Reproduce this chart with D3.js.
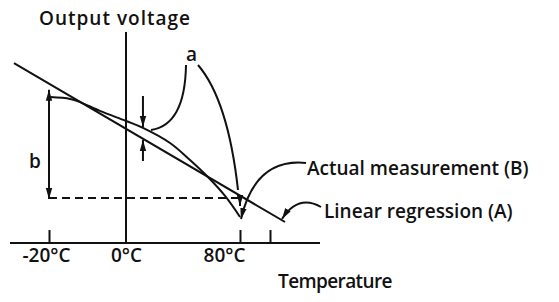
<!DOCTYPE html>
<html lang="en">
<head>
  <meta charset="UTF-8">
  <script src="https://d3js.org/d3.v7.min.js"></script>
  <title>Output voltage vs temperature</title>
  <style>
    body { margin: 0; background: #fff; }
    svg text {
      font-family: "Open Sans", "DejaVu Sans", sans-serif;
      font-size: 19px;
      font-weight: 600;
      fill: #111;
    }
    .ink { stroke: #111; fill: none; stroke-width: 2; }
  </style>
</head>
<body>
  <svg width="559" height="302"></svg>

  <script>
    // x axis ticks (schematic, not to scale)
    const tempTicks = [-20, 0, 80, 100];
    const tickLabels = ["-20°C", "0°C", "80°C", ""];

    const measuredTemp = [-19.7, -14.5, -11.9, -6.8, 0, 11.9, 30.9, 44.9, 57.5, 69.5, 80];
    const measuredVolt = [6.95, 6.86, 6.71, 6.29, 5.81, 5.48, 4.76, 3.95, 3.14, 2.24, 1.24];

    // linear regression (A), two end points
    const regressionTemp = [-29.1, 110];
    const regressionVolt = [8.57, 1.0];

    // levels used by the "b" span
    const bTopVolt = 7.3;
    const bBottomVolt = 2.14;
    const dashEndTemp = 83.3;

    const svg = d3.select("svg");

    const x = d3.scaleLinear()
      .domain(tempTicks)
      .range([49, 126, 240, 270]);

    const y = d3.scaleLinear()
      .domain([0, 10])
      .range([243, 33]);

    // arrowhead
    const defs = svg.append("defs");
    defs.append("marker")
      .attr("id", "arrow")
      .attr("viewBox", "0 -4 11 8")
      .attr("refX", 11)
      .attr("refY", 0)
      .attr("markerWidth", 11)
      .attr("markerHeight", 8)
      .attr("markerUnits", "userSpaceOnUse")
      .attr("orient", "auto")
      .append("path")
      .attr("d", "M0,-3.2L11,0L0,3.2Z")
      .attr("fill", "#111");

    // axes
    svg.append("line").attr("class", "ink")
      .attr("x1", 10).attr("x2", 320)
      .attr("y1", y(0)).attr("y2", y(0))
      .attr("stroke-width", 2.5);

    svg.append("line").attr("class", "ink")
      .attr("x1", x(0)).attr("x2", x(0))
      .attr("y1", 32).attr("y2", y(0));

    const xAxis = d3.axisBottom(x)
      .tickValues(tempTicks)
      .tickFormat((d, i) => tickLabels[i])
      .tickSizeInner(-13)
      .tickSizeOuter(0)
      .tickPadding(5.5);

    const gx = svg.append("g")
      .attr("transform", `translate(0,${y(0)})`)
      .call(xAxis);
    gx.select(".domain").remove();
    gx.selectAll(".tick line").attr("stroke", "#111").attr("stroke-width", 2)
      .filter(d => d === 0).remove();
    gx.selectAll(".tick text")
      .attr("font-size", null).attr("font-family", null).attr("fill", null)
      .filter(d => d === 80)
      .attr("text-anchor", "end")
      .attr("dx", 5);
    gx.selectAll(".tick text").filter(d => d === -20).attr("dx", -3);

    // dashed level line
    svg.append("line").attr("class", "ink")
      .attr("x1", x(-20)).attr("x2", x(dashEndTemp))
      .attr("y1", y(bBottomVolt)).attr("y2", y(bBottomVolt))
      .attr("stroke-dasharray", "8,5");

    // regression line (A)
    const regression = d3.zip(regressionTemp, regressionVolt);
    svg.append("path").attr("class", "ink")
      .attr("d", d3.line().x(d => x(d[0])).y(d => y(d[1]))(regression));

    // actual measurement (B)
    const measured = d3.zip(measuredTemp, measuredVolt);
    svg.append("path").attr("class", "ink")
      .attr("d", d3.line().curve(d3.curveCatmullRom).x(d => x(d[0])).y(d => y(d[1]))(measured));

    // "b" span arrows
    const bMid = (y(bTopVolt) + y(bBottomVolt)) / 2;
    svg.append("line").attr("class", "ink")
      .attr("x1", x(-20)).attr("x2", x(-20))
      .attr("y1", bMid).attr("y2", y(bTopVolt))
      .attr("marker-end", "url(#arrow)");
    svg.append("line").attr("class", "ink")
      .attr("x1", x(-20)).attr("x2", x(-20))
      .attr("y1", bMid).attr("y2", y(bBottomVolt) + 1)
      .attr("marker-end", "url(#arrow)");
    svg.append("text").attr("x", 29).attr("y", 168).text("b");

    // "a" gap arrows near 12°C
    const aT = 11.9;
    svg.append("line").attr("class", "ink")
      .attr("x1", x(aT)).attr("x2", x(aT))
      .attr("y1", 96).attr("y2", 127)
      .attr("marker-end", "url(#arrow)");
    svg.append("line").attr("class", "ink")
      .attr("x1", x(aT)).attr("x2", x(aT))
      .attr("y1", 161).attr("y2", 140)
      .attr("marker-end", "url(#arrow)");

    // "a" label and its callouts
    svg.append("text").attr("x", 186).attr("y", 61).text("a");
    svg.append("path").attr("class", "ink")
      .attr("d", "M186,65Q185,125 151,130");
    svg.append("path").attr("class", "ink")
      .attr("d", "M198,65Q228,100 238,190");
    svg.append("line").attr("class", "ink")
      .attr("x1", 240).attr("x2", 240)
      .attr("y1", 197).attr("y2", 206)
      .attr("stroke-width", 1.5)
      .attr("marker-end", "url(#arrow)");

    // callout labels
    svg.append("path").attr("class", "ink")
      .attr("d", "M306,163Q255,158 241,219")
      .attr("marker-end", "url(#arrow)");
    svg.append("text").attr("x", 307).attr("y", 175).text("Actual measurement (B)");

    svg.append("path").attr("class", "ink")
      .attr("d", "M321,207Q298,194 282,219")
      .attr("marker-end", "url(#arrow)");
    svg.append("text").attr("x", 324).attr("y", 218).text("Linear regression (A)");

    // axis titles
    svg.append("text").attr("x", 39).attr("y", 25)
      .attr("letter-spacing", 1)
      .text("Output voltage");
    svg.append("text").attr("x", 278).attr("y", 288)
      .attr("letter-spacing", -0.6)
      .text("Temperature");
  </script>
</body>
</html>
